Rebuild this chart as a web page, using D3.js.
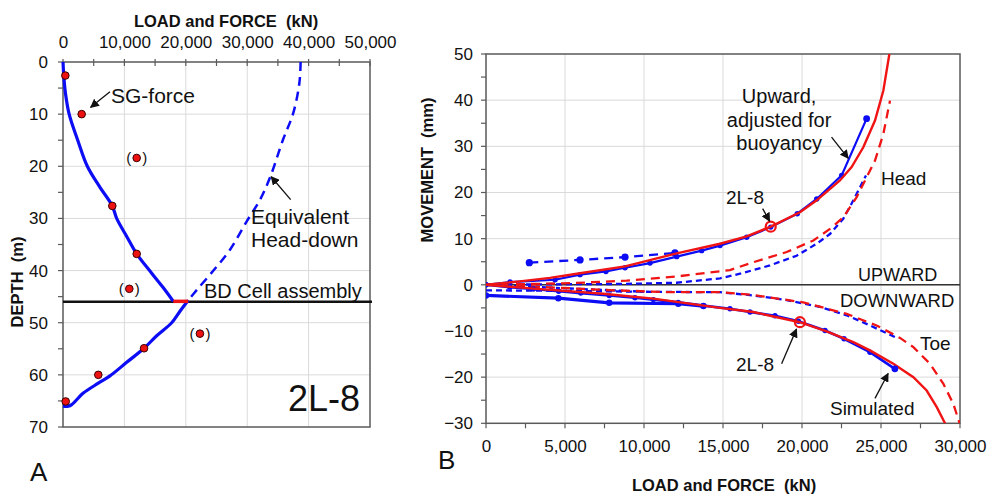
<!DOCTYPE html>
<html>
<head>
<meta charset="utf-8">
<script src="https://cdn.jsdelivr.net/npm/d3@7"></script>
<style>
  body { margin: 0; background: #fff; }
  svg { font-family: "Liberation Sans", Arial, sans-serif; }
  .grid line { stroke: #dadada; stroke-width: 1; }
  .tick text { font-size: 17px; fill: #111; }
</style>
</head>
<body>
<svg id="chart" width="987" height="497"></svg>
<script>
// ---- Panel A: load and force (kN) vs depth (m)
const sgPoints = [[380, 2.6], [3040, 10.0], [8030, 27.6], [12000, 36.8], [13200, 54.9], [5750, 60.0], [440, 65.1]];
const sgPointsBracketed = [[12000, 18.4], [10800, 43.5], [22300, 52.1]];
const sgUpper = [[0, 0], [150, 3], [400, 6], [1000, 10], [2400, 15], [3960, 20], [6000, 24], [8030, 27.6],
  [8740, 30], [10400, 33.5], [12000, 36.8], [14440, 40.5], [16340, 43.3], [17970, 45.9]];
const sgLower = [[20400, 45.7], [19050, 47.8], [17700, 50], [15260, 52.5], [13200, 54.9], [10370, 57.6],
  [7650, 60.2], [5750, 61.6], [3310, 63.5], [1420, 65.7], [870, 66], [0, 66]];
const headDown = [[38700, 0], [38500, 4], [37500, 9.8], [35800, 15], [33800, 21.9], [32100, 26.4],
  [29900, 30.6], [27200, 36], [24500, 40], [21800, 43.7], [20400, 45.7]];
const bdCell = [[17970, 45.9], [20400, 45.9]];
const bdCellDepth = 46;
const loadTicksA = [0, 10000, 20000, 30000, 40000, 50000];
const depthTicks = [0, 10, 20, 30, 40, 50, 60, 70];

// ---- Panel B: load and force (kN) vs movement (mm)
const headMeasured = [[0, 0], [2000, 0.7], [4050, 1.5], [5950, 2.5], [8800, 4.0], [12070, 6.8], [14810, 8.9],
  [16500, 10.5], [18020, 12.6], [19870, 15.7], [20930, 18.3], [22400, 22.6], [23140, 25.5], [23880, 29.8],
  [24620, 35.6], [25150, 42.1], [25530, 50], [25700, 55]];
const headBuoyancy = [[0, 0], [1520, 0.6], [4370, 1.1], [5950, 2.2], [7590, 2.9], [8800, 3.7], [10380, 4.7],
  [12070, 6.1], [13650, 7.4], [14810, 8.5], [16500, 10.3], [18020, 12.5], [19700, 15.4], [20930, 18.6],
  [22510, 23.7], [24090, 36.0]];
const headEarly = [[2740, 4.8], [5950, 5.4], [8800, 6.0], [11960, 6.9]];
const headEquivRed = [[0, 0], [5320, 0.35], [8900, 0.9], [12070, 1.8], [15440, 3.2], [16920, 4.9], [19030, 7.1],
  [20720, 9.6], [21770, 12.1], [22610, 14.6], [23460, 19.0], [24090, 23.3], [24620, 26.9], [25150, 32.7], [25570, 39.9]];
const headEquivBlue = [[0, 0], [4000, 0.1], [8900, 0.2], [12070, 0.45], [14810, 1.4], [16080, 2.4], [17970, 4.2],
  [19660, 6.3], [20930, 8.9], [21770, 11.0], [22610, 14.3], [23250, 18.3], [24050, 23.7]];
const toeMeasured = [[0, 0], [3210, -0.87], [7430, -1.95], [10590, -3.0], [14810, -5.0], [16920, -5.9],
  [19870, -8.1], [21560, -10.1], [23250, -12.4], [24300, -14.2], [25780, -17.1], [27050, -20.0],
  [27890, -22.9], [28530, -26.5], [29050, -30], [29300, -32]];
const toeSimulated = [[0, 0], [1500, -0.5], [3000, -0.9], [4600, -1.4], [6000, -1.8], [7800, -2.3], [9430, -2.8],
  [10590, -3.2], [12170, -3.8], [13760, -4.5], [15440, -5.2], [16710, -5.9], [18290, -6.7], [19770, -7.9],
  [21460, -9.9], [22660, -11.7], [24300, -14.6], [25880, -18.2]];
const toeOffset = [[0, -2.3], [4580, -2.9], [7800, -3.9], [12170, -4.1], [13760, -4.6]];
const toeEquivRed = [[0, 0], [3210, -0.4], [7430, -1.1], [11650, -1.6], [14810, -1.6], [16920, -2.2],
  [20080, -3.8], [22830, -6.3], [24720, -8.8], [26200, -11.5], [27050, -13.5], [28100, -17.1],
  [28940, -21.4], [29580, -25.8], [30000, -30.3]];
const toeEquivBlue = [[0, -1.2], [5000, -1.3], [10000, -1.5], [14810, -1.6], [16920, -2.3], [19030, -3.3],
  [21140, -4.8], [22830, -6.6], [24300, -8.8], [25990, -11.5]];
const toeEquivBlue2 = [[0, 0], [4000, -0.6], [8000, -1.2], [10000, -1.5]];
const markers2L8 = [[18020, 12.6], [19870, -8.1]];
const loadTicksB = [0, 5000, 10000, 15000, 20000, 25000, 30000];
const moveTicks = [-30, -20, -10, 0, 10, 20, 30, 40, 50];

const BLUE = "#0c0cf5", RED = "#f01414", FRAME = "#5a5a5a";
const svg = d3.select("#chart");

svg.append("defs").append("marker")
  .attr("id", "arrow").attr("viewBox", "0 0 10 10").attr("refX", 9).attr("refY", 5)
  .attr("markerWidth", 9).attr("markerHeight", 9).attr("markerUnits", "userSpaceOnUse")
  .attr("orient", "auto")
  .append("path").attr("d", "M0,0 L10,5 L0,10 z").attr("fill", "#111");

function label(g, x, y, txt, size, anchor, weight) {
  return g.append("text").attr("x", x).attr("y", y).text(txt)
    .attr("font-size", size).attr("text-anchor", anchor || "start")
    .attr("font-weight", weight || "normal").attr("fill", "#111")
    .style("white-space", "pre");
}

function arrow(g, x1, y1, x2, y2) {
  g.append("line").attr("x1", x1).attr("y1", y1).attr("x2", x2).attr("y2", y2)
    .attr("stroke", "#111").attr("stroke-width", 1.3).attr("marker-end", "url(#arrow)");
}

// ================= Panel A =================
const xA = d3.scaleLinear().domain([0, 50000]).range([63, 370]);
const yA = d3.scaleLinear().domain([0, 70]).range([62, 427]);
const gA = svg.append("g");

gA.append("g").attr("class", "grid").selectAll("line.v").data(loadTicksA.slice(1, -1)).enter()
  .append("line").attr("x1", d => xA(d)).attr("x2", d => xA(d)).attr("y1", yA(0)).attr("y2", yA(70));
gA.append("g").attr("class", "grid").selectAll("line.h").data(depthTicks.slice(1, -1)).enter()
  .append("line").attr("x1", xA(0)).attr("x2", xA(50000)).attr("y1", d => yA(d)).attr("y2", d => yA(d));

gA.append("rect").attr("x", xA(0)).attr("y", yA(0))
  .attr("width", xA(50000) - xA(0)).attr("height", yA(70) - yA(0))
  .attr("fill", "none").attr("stroke", FRAME).attr("stroke-width", 1.5);

// minor ticks
d3.range(0, 50001, 5000).forEach(v => {
  gA.append("line").attr("x1", xA(v)).attr("x2", xA(v)).attr("y1", yA(0) - 3).attr("y2", yA(0) + 4)
    .attr("stroke", FRAME).attr("stroke-width", 1.2);
});
d3.range(0, 71, 5).forEach(v => {
  gA.append("line").attr("x1", xA(0) - 5).attr("x2", xA(0)).attr("y1", yA(v)).attr("y2", yA(v))
    .attr("stroke", FRAME).attr("stroke-width", 1.2);
});

gA.append("g").attr("transform", `translate(0,${yA(0)})`)
  .call(d3.axisTop(xA).tickValues(loadTicksA).tickSize(0).tickPadding(14).tickFormat(d3.format(",")))
  .call(g => g.select(".domain").remove());
gA.append("g").attr("transform", `translate(${xA(0)},0)`)
  .call(d3.axisLeft(yA).tickValues(depthTicks).tickSize(0).tickPadding(15))
  .call(g => g.select(".domain").remove());

label(gA, 226, 27, "LOAD and FORCE  (kN)", 16.5, "middle", "bold");
label(gA, 0, 0, "DEPTH  (m)", 16.5, "middle", "bold").attr("transform", "translate(23,282) rotate(-90)");
label(gA, 30, 481, "A", 26);

const lineA = d3.line().x(d => xA(d[0])).y(d => yA(d[1])).curve(d3.curveCatmullRom.alpha(0.5));

gA.append("path").datum(headDown).attr("fill", "none").attr("stroke", BLUE)
  .attr("stroke-width", 2.5).attr("stroke-dasharray", "9,6").attr("d", lineA);

gA.append("line").attr("x1", xA(0)).attr("x2", xA(50000) + 2)
  .attr("y1", yA(bdCellDepth)).attr("y2", yA(bdCellDepth))
  .attr("stroke", "#111").attr("stroke-width", 2.5);

gA.append("path").datum(sgUpper).attr("fill", "none").attr("stroke", BLUE)
  .attr("stroke-width", 3.2).attr("d", lineA);
gA.append("path").datum(sgLower).attr("fill", "none").attr("stroke", BLUE)
  .attr("stroke-width", 3.2).attr("d", lineA);
gA.append("path").datum(bdCell).attr("fill", "none").attr("stroke", RED)
  .attr("stroke-width", 3.5).attr("d", d3.line().x(d => xA(d[0])).y(d => yA(d[1])));

gA.selectAll("circle.sg").data(sgPoints.concat(sgPointsBracketed)).enter().append("circle")
  .attr("cx", d => xA(d[0])).attr("cy", d => yA(d[1])).attr("r", 3.8)
  .attr("fill", "#ee1111").attr("stroke", "#3a0000").attr("stroke-width", 1);
sgPointsBracketed.forEach(d => {
  label(gA, xA(d[0]) - 8, yA(d[1]) + 5, "(", 15, "middle");
  label(gA, xA(d[0]) + 8, yA(d[1]) + 5, ")", 15, "middle");
});

label(gA, xA(7820), yA(7.9), "SG-force", 21);
arrow(gA, xA(7650), yA(5.7), xA(4500), yA(8.7));
label(gA, xA(30620), yA(31.0), "Equivalent", 21);
label(gA, xA(30620), yA(35.4), "Head-down", 21);
arrow(gA, xA(37080), yA(26.4), xA(33900), yA(22.0));
label(gA, xA(22960), yA(45.3), "BD Cell assembly", 20);
label(gA, xA(36640), yA(67.0), "2L-8", 36);

// ================= Panel B =================
const xB = d3.scaleLinear().domain([0, 30000]).range([486, 960]);
const yB = d3.scaleLinear().domain([-30, 50]).range([423.3, 54]);
const gB = svg.append("g");

gB.append("g").attr("class", "grid").selectAll("line.v").data(loadTicksB.slice(1, -1)).enter()
  .append("line").attr("x1", d => xB(d)).attr("x2", d => xB(d)).attr("y1", yB(50)).attr("y2", yB(-30));
gB.append("g").attr("class", "grid").selectAll("line.h").data(moveTicks.slice(1, -1)).enter()
  .append("line").attr("x1", xB(0)).attr("x2", xB(30000)).attr("y1", d => yB(d)).attr("y2", d => yB(d));

gB.append("rect").attr("x", xB(0)).attr("y", yB(50))
  .attr("width", xB(30000) - xB(0)).attr("height", yB(-30) - yB(50))
  .attr("fill", "none").attr("stroke", FRAME).attr("stroke-width", 1.5);
gB.append("line").attr("x1", xB(0)).attr("x2", xB(30000)).attr("y1", yB(0)).attr("y2", yB(0))
  .attr("stroke", "#333").attr("stroke-width", 1.6);

d3.range(0, 30001, 2500).forEach(v => {
  gB.append("line").attr("x1", xB(v)).attr("x2", xB(v)).attr("y1", yB(-30)).attr("y2", yB(-30) + 5)
    .attr("stroke", FRAME).attr("stroke-width", 1.2);
});
d3.range(-30, 51, 5).forEach(v => {
  gB.append("line").attr("x1", xB(0) - 5).attr("x2", xB(0)).attr("y1", yB(v)).attr("y2", yB(v))
    .attr("stroke", FRAME).attr("stroke-width", 1.2);
});

gB.append("g").attr("transform", `translate(0,${yB(-30)})`)
  .call(d3.axisBottom(xB).tickValues(loadTicksB).tickSize(0).tickPadding(17).tickFormat(d3.format(",")))
  .call(g => g.select(".domain").remove());
gB.append("g").attr("transform", `translate(${xB(0)},0)`)
  .call(d3.axisLeft(yB).tickValues(moveTicks).tickSize(0).tickPadding(13))
  .call(g => g.select(".domain").remove());

label(gB, 724, 491, "LOAD and FORCE  (kN)", 16.5, "middle", "bold");
label(gB, 0, 0, "MOVEMENT  (mm)", 16.5, "middle", "bold").attr("transform", "translate(433,170) rotate(-90)");
label(gB, 438, 469, "B", 26);

svg.append("clipPath").attr("id", "clipB").append("rect")
  .attr("x", xB(0)).attr("y", yB(50)).attr("width", xB(30000) - xB(0)).attr("height", yB(-30) - yB(50));
const plotB = gB.append("g").attr("clip-path", "url(#clipB)");
const lineB = d3.line().x(d => xB(d[0])).y(d => yB(d[1]));

function seriesB(data, color, width, dash) {
  const p = plotB.append("path").datum(data).attr("fill", "none").attr("stroke", color)
    .attr("stroke-width", width).attr("d", lineB);
  if (dash) p.attr("stroke-dasharray", dash);
}
function dotsB(data, r) {
  plotB.append("g").selectAll("circle").data(data).enter().append("circle")
    .attr("cx", d => xB(d[0])).attr("cy", d => yB(d[1])).attr("r", r).attr("fill", BLUE);
}

seriesB(headEquivBlue, BLUE, 2.3, "6,4");
seriesB(toeEquivBlue, BLUE, 2.3, "6,4");
seriesB(toeEquivBlue2, BLUE, 2.3, "4,3");
seriesB(headEquivRed, RED, 2.3, "9,6");
seriesB(toeEquivRed, RED, 2.3, "9,6");
seriesB(headEarly, BLUE, 2.3, "9,6");
dotsB(headEarly, 3.6);
seriesB(toeOffset, BLUE, 3.2);
dotsB(toeOffset, 3.2);
seriesB(headBuoyancy, BLUE, 2.2);
dotsB(headBuoyancy, 2.7);
seriesB(toeSimulated, BLUE, 2.6);
dotsB(toeSimulated, 2.7);
seriesB(headMeasured, RED, 2.4);
seriesB(toeMeasured, RED, 2.4);
dotsB([headBuoyancy[headBuoyancy.length - 1], toeSimulated[toeSimulated.length - 1]], 3.4);

plotB.selectAll("circle.m").data(markers2L8).enter().append("circle")
  .attr("cx", d => xB(d[0])).attr("cy", d => yB(d[1])).attr("r", 5)
  .attr("fill", "none").attr("stroke", RED).attr("stroke-width", 2.2);

label(gB, xB(18550), yB(39.3), "Upward,", 20, "middle");
label(gB, xB(18550), yB(34.1), "adjusted for", 20, "middle");
label(gB, xB(18550), yB(29.3), "buoyancy", 20, "middle");
arrow(gB, xB(21870), yB(32.0), xB(22930), yB(27.4));
label(gB, xB(16390), yB(17.6), "2L-8", 19, "middle");
arrow(gB, xB(17510), yB(16.5), xB(17950), yB(13.8));
label(gB, xB(25000), yB(21.7), "Head", 19);
label(gB, xB(23540), yB(0.93), "UPWARD", 18);
label(gB, xB(22400), yB(-4.85), "DOWNWARD", 18.5);
label(gB, xB(27470), yB(-14.2), "Toe", 19);
label(gB, xB(17030), yB(-18.7), "2L-8", 19, "middle");
arrow(gB, xB(18710), yB(-17.1), xB(19650), yB(-9.6));
label(gB, xB(21770), yB(-28.3), "Simulated", 19);
arrow(gB, xB(24620), yB(-24.6), xB(25450), yB(-19.2));
</script>
</body>
</html>
